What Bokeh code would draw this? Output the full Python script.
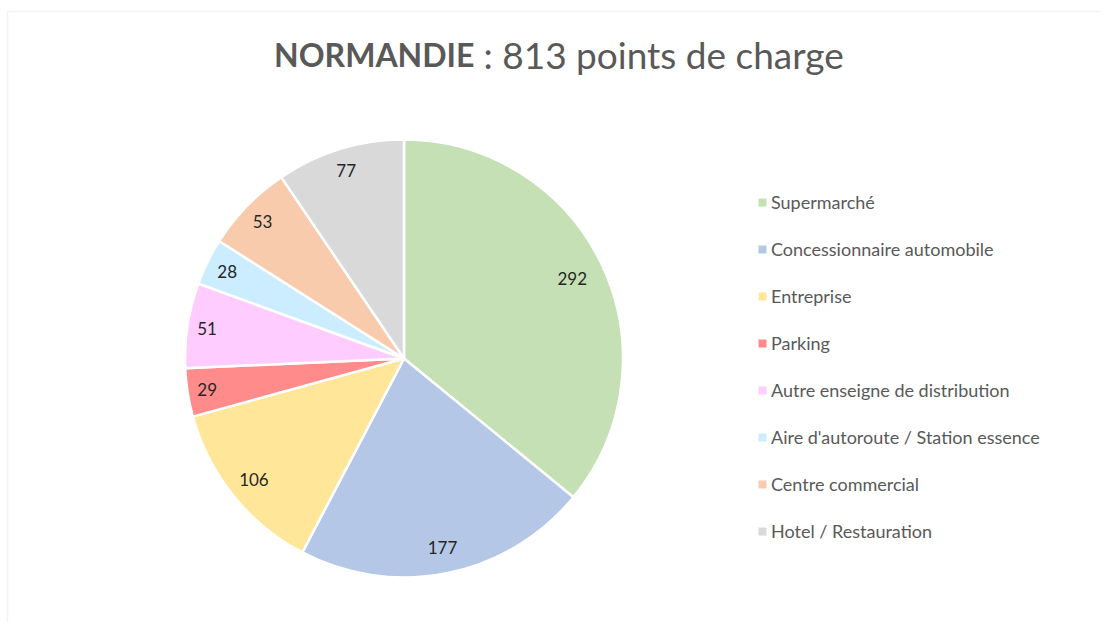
import numpy as np
from bokeh.plotting import figure
from bokeh.models import ColumnDataSource, Range1d, Legend, LegendItem, BoxAnnotation
from bokeh.core.properties import value
from bokeh.embed import file_html
from bokeh.resources import INLINE

# ---- data ----
categories = ["Supermarché", "Concessionnaire automobile", "Entreprise", "Parking",
              "Autre enseigne de distribution", "Aire d'autoroute / Station essence",
              "Centre commercial", "Hotel / Restauration"]
counts = [292, 177, 106, 29, 51, 28, 53, 77]
colors = ["#C5E0B4", "#B4C7E7", "#FFE699", "#FF8B8B", "#FFCCFF", "#CCECFF", "#F8CBAD", "#D9D9D9"]
title_bold = "NORMANDIE"
title_rest = ": 813 points de charge"

# ---- geometry (page pixels) ----
W, H = 1100, 622
cx, cy, R = 403.5, -358.0, 219.0
FONT = "Lato"

vals = np.array(counts, dtype=float)
frac = vals / vals.sum()
cum = np.concatenate([[0.0], np.cumsum(frac)])
start = np.pi / 2 - cum[1:] * 2 * np.pi
end = np.pi / 2 - cum[:-1] * 2 * np.pi
mid = (start + end) / 2
lab_r = [0.85, 0.88, 0.88, 0.91, 0.91, 0.90, 0.90, 0.90]
lx = cx + np.array(lab_r) * R * np.cos(mid)
ly = cy + np.array(lab_r) * R * np.sin(mid)

src = ColumnDataSource(dict(cat=categories, val=counts, color=colors,
                            start=start, end=end, lx=lx, ly=ly,
                            txt=[str(v) for v in counts]))

p = figure(width=W, height=H, output_backend="svg", toolbar_location=None,
           x_range=Range1d(0, W), y_range=Range1d(-H, -3),
           min_border_left=0, min_border_right=0, min_border_top=3, min_border_bottom=0)
p.axis.visible = False
p.grid.visible = False
p.outline_line_color = None
p.background_fill_color = "white"
p.border_fill_color = "white"

p.add_layout(BoxAnnotation(left=7, right=3000, top=-11, bottom=-3000,
                           fill_color=None, line_color="#D9D9D9", line_width=1.5))

p.wedge(x=cx, y=cy, radius=R, start_angle="start", end_angle="end",
        direction="anticlock", fill_color="color", line_color="white", line_width=2.5,
        source=src)
leg_r = p.wedge(x=cx, y=cy, radius=0, start_angle="start", end_angle="end",
                fill_color="color", line_color=None, source=src)

p.text(x="lx", y="ly", text="txt", source=src, text_align="center", text_baseline="middle",
       text_font=value(FONT), text_font_size="17px", text_color="#262626")

p.text(x=[474], y=[-54], text=[title_bold], text_align="right", text_baseline="alphabetic",
       text_font=value(FONT), text_font_style="bold", text_font_size="32px", text_color="#595959")
p.text(x=[483], y=[-54], text=[title_rest], text_align="left", text_baseline="alphabetic",
       text_font=value(FONT), text_font_size="37px", text_color="#595959")

items = [LegendItem(label=c, renderers=[leg_r], index=i) for i, c in enumerate(categories)]
legend = Legend(items=items, location=(757, H - 543), orientation="vertical",
                glyph_width=10, glyph_height=10, label_height=24, spacing=23,
                label_standoff=4, padding=0, margin=0,
                border_line_color=None, background_fill_alpha=0,
                label_text_font=FONT, label_text_font_size="18px", label_text_color="#595959")
p.add_layout(legend, "center")

open("out.html", "w").write(file_html(p, INLINE))
